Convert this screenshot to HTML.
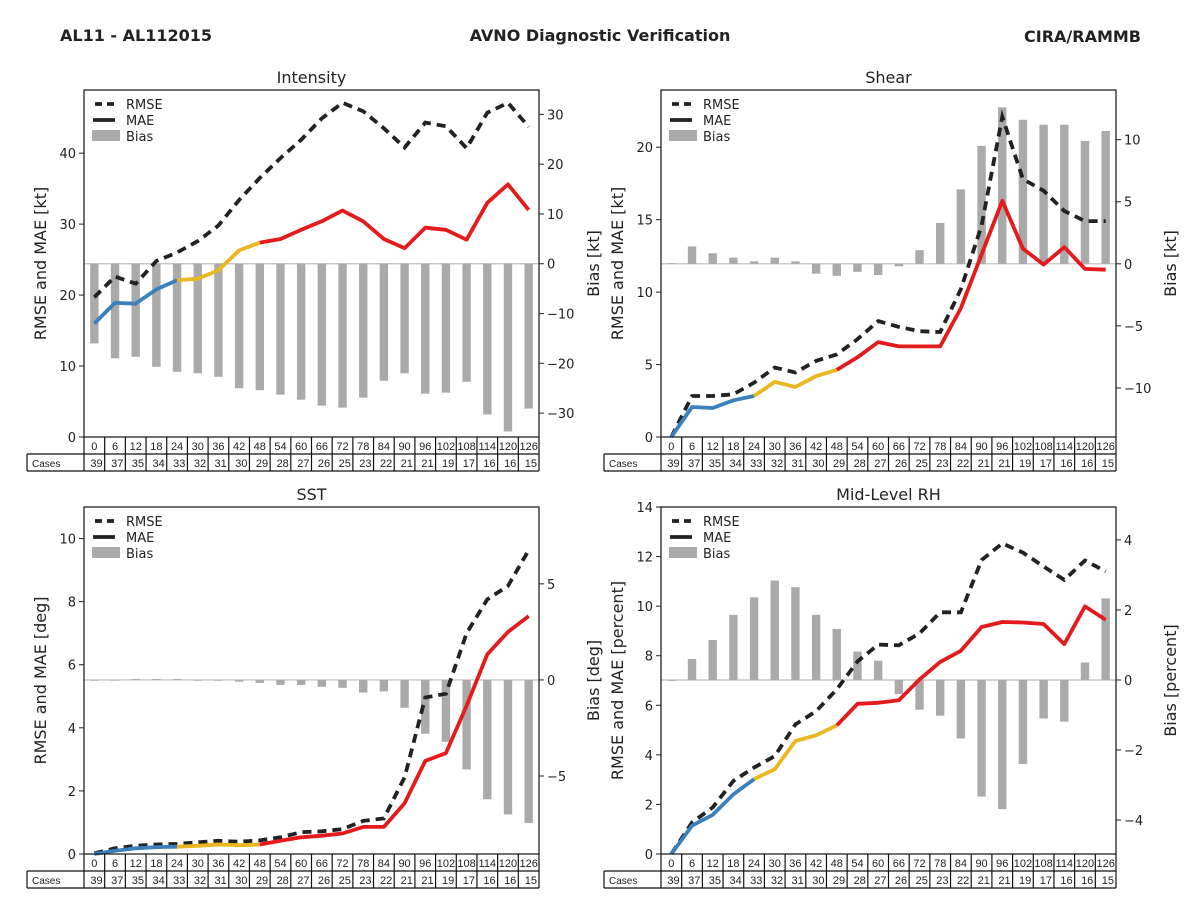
<!DOCTYPE html>
<html><head><meta charset="utf-8"><style>
html,body{margin:0;padding:0;background:#fff;}
svg{display:block;font-family:"DejaVu Sans","Liberation Sans",sans-serif;}
</style></head><body>
<svg id="fig" width="1200" height="900" viewBox="0 0 1200 900" xmlns="http://www.w3.org/2000/svg">
<text x="60" y="41" font-size="16" font-weight="bold" fill="#222">AL11 - AL112015</text>
<text x="600" y="41" font-size="16" font-weight="bold" fill="#222" text-anchor="middle">AVNO Diagnostic Verification</text>
<text x="1141" y="42" font-size="16" font-weight="bold" fill="#222" text-anchor="end">CIRA/RAMMB</text>
</svg>
<script>
const hours = [0,6,12,18,24,30,36,42,48,54,60,66,72,78,84,90,96,102,108,114,120,126];
const cases = [39,37,35,34,33,32,31,30,29,28,27,26,25,23,22,21,21,19,17,16,16,15];

const intensityRmse = [19.7,22.6,21.6,24.8,26.0,27.6,29.8,33.4,36.5,39.3,41.9,44.9,47.1,45.9,43.5,40.8,44.3,43.8,40.7,45.7,47.1,43.7];
const intensityMae = [16.0,18.9,18.8,20.8,22.1,22.3,23.5,26.3,27.4,27.9,29.2,30.4,31.9,30.4,27.9,26.6,29.5,29.2,27.8,33.0,35.6,32.0];
const intensityBias = [-16,-19,-18.7,-20.7,-21.7,-22,-22.7,-25,-25.4,-26.3,-27.3,-28.5,-28.9,-26.9,-23.5,-22,-26.1,-25.9,-23.7,-30.3,-33.7,-29.1];

const shearRmse = [0,2.83,2.83,2.95,3.75,4.8,4.45,5.25,5.7,6.75,8.0,7.6,7.3,7.25,10.2,14.6,22.1,17.8,17.0,15.6,14.9,14.9];
const shearMae = [0,2.07,2.0,2.53,2.83,3.8,3.45,4.2,4.63,5.5,6.55,6.25,6.25,6.25,8.9,12.6,16.3,13.0,11.9,13.1,11.6,11.55];
const shearBias = [0.05,1.4,0.85,0.5,0.2,0.5,0.2,-0.8,-0.97,-0.65,-0.9,-0.2,1.1,3.3,6.0,9.5,12.6,11.6,11.2,11.2,9.9,10.7];

const sstRmse = [0.02,0.18,0.26,0.3,0.32,0.37,0.42,0.39,0.43,0.53,0.69,0.72,0.79,1.05,1.13,2.43,4.96,5.08,7.0,8.07,8.5,9.63];
const sstMae = [0,0.1,0.18,0.22,0.23,0.26,0.3,0.28,0.3,0.42,0.53,0.58,0.65,0.86,0.86,1.61,2.95,3.2,4.7,6.33,7.04,7.54];
const sstBias = [-0.03,-0.03,0.05,0.05,0.05,-0.02,-0.02,-0.09,-0.16,-0.26,-0.26,-0.36,-0.41,-0.66,-0.6,-1.45,-2.8,-3.22,-4.66,-6.21,-7.0,-7.45];

const rhRmse = [0,1.27,1.88,2.95,3.49,3.95,5.23,5.76,6.64,7.77,8.45,8.42,8.9,9.75,9.75,11.86,12.53,12.16,11.6,11.06,11.84,11.4];
const rhMae = [0,1.14,1.58,2.41,3.02,3.42,4.56,4.79,5.19,6.06,6.1,6.2,7.04,7.75,8.2,9.16,9.36,9.34,9.28,8.47,9.99,9.45];
const rhBias = [0,0.6,1.14,1.86,2.36,2.84,2.65,1.86,1.46,0.81,0.55,-0.4,-0.85,-1.02,-1.67,-3.33,-3.69,-2.4,-1.1,-1.19,0.5,2.33];

const intensityLeftTicks = [0,10,20,30,40];
const intensityRightTicks = [-30,-20,-10,0,10,20,30];
const shearLeftTicks = [0,5,10,15,20];
const shearRightTicks = [-10,-5,0,5,10];
const sstLeftTicks = [0,2,4,6,8,10];
const sstRightTicks = [-5,0,5];
const rhLeftTicks = [0,2,4,6,8,10,12,14];
const rhRightTicks = [-4,-2,0,2,4];

const NS = "http://www.w3.org/2000/svg";
const svg = document.getElementById('fig');
function mk(tag, attrs, parent, txt){
  const e = document.createElementNS(NS, tag);
  for (const k in attrs) e.setAttribute(k, attrs[k]);
  if (txt !== undefined) e.textContent = txt;
  (parent||svg).appendChild(e);
  return e;
}

function panel(cfg){
  const g = mk('g', {});
  
  
  const L = cfg.x0, R = cfg.x0 + 455, T = cfg.y0, B = cfg.y0 + 347;
  const slot = (R - L) / 22;
  const xs = i => L + (i + 0.5) * slot;
  const yL = v => B - (v - cfg.lmin) / (cfg.lmax - cfg.lmin) * (B - T);
  const yR = v => B - (v - cfg.rmin) / (cfg.rmax - cfg.rmin) * (B - T);

  const title = mk('text', {x:(L+R)/2, y:T-7, 'font-size':16, 'text-anchor':'middle', fill:'#222'}, g, cfg.title);
  
  

  const zl = mk('line', {x1:L, x2:R, y1:yR(0), y2:yR(0), stroke:'#bbbbbb', 'stroke-width':1.2}, g);
  
  

  cfg.bias.forEach((v, i) => {
    const y1 = yR(Math.max(v, 0)), y2 = yR(Math.min(v, 0));
    const r = mk('rect', {x:xs(i)-4.2, y:y1, width:8.4, height:Math.max(y2-y1, 0.8), fill:'#aaaaaa'}, g);
    
    
  });

  const rp = cfg.rmse.map((v,i)=>xs(i).toFixed(1)+','+yL(v).toFixed(1)).join(' ');
  const rl = mk('polyline', {points:rp, fill:'none', stroke:'#222', 'stroke-width':3.8, 'stroke-dasharray':'9,6'}, g);
  
  

  const segs = [[0,4,'#3a80bd'],[4,8,'#eab81e'],[8,21,'#e41a1c']];
  segs.forEach(s => {
    const pts = [];
    for (let i = s[0]; i <= s[1]; i++) pts.push(xs(i).toFixed(1)+','+yL(cfg.mae[i]).toFixed(1));
    const p = mk('polyline', {points:pts.join(' '), fill:'none', stroke:s[2], 'stroke-width':3.8, 'stroke-linejoin':'round'}, g);
    
    
  });

  const fr = mk('rect', {x:L, y:T, width:R-L, height:B-T, fill:'none', stroke:'#222', 'stroke-width':1.3}, g);
  
  

  cfg.lt.forEach(v => {
    mk('line', {x1:L-5, x2:L, y1:yL(v), y2:yL(v), stroke:'#222', 'stroke-width':1}, g);
    const t = mk('text', {x:L-8, y:yL(v)+5, 'font-size':13, 'text-anchor':'end', fill:'#222'}, g, String(v));
    
    
  });
  cfg.rt.forEach(v => {
    mk('line', {x1:R, x2:R+5, y1:yR(v), y2:yR(v), stroke:'#222', 'stroke-width':1}, g);
    const t = mk('text', {x:R+8, y:yR(v)+5, 'font-size':13, fill:'#222'}, g, v < 0 ? '\u2212' + Math.abs(v) : String(v));
    
    
  });

  const ly = mk('text', {x:0, y:0, 'font-size':16, 'text-anchor':'middle', fill:'#222', transform:`translate(${L-38},${(T+B)/2}) rotate(-90)`}, g, cfg.lLabel);
  
  
  const ry = mk('text', {x:0, y:0, 'font-size':16, 'text-anchor':'middle', fill:'#222', transform:`translate(${R+60},${(T+B)/2}) rotate(-90)`}, g, cfg.rLabel);
  
  

  const lg = mk('g', {}, g);
  
  
  mk('line', {x1:L+11, x2:L+31, y1:T+14, y2:T+14, stroke:'#222', 'stroke-width':3.8, 'stroke-dasharray':'7,5'}, lg);
  mk('line', {x1:L+9, x2:L+31, y1:T+30, y2:T+30, stroke:'#222', 'stroke-width':3.8}, lg);
  mk('rect', {x:L+8, y:T+40, width:28, height:11, fill:'#aaaaaa'}, lg);
  ['RMSE','MAE','Bias'].forEach((s,k) => {
    const t = mk('text', {x:L+42, y:T+19+k*16, 'font-size':13, fill:'#222'}, lg, s);
    
    
  });

  const tb = mk('g', {'font-family':'"Liberation Sans",sans-serif'}, g);
  
  
  const r1 = B, r2 = B + 17, r3 = B + 34, CL = L - 57;
  mk('line', {x1:CL, x2:R, y1:r2, y2:r2, stroke:'#111', 'stroke-width':1.2}, tb);
  mk('line', {x1:CL, x2:R, y1:r3, y2:r3, stroke:'#111', 'stroke-width':1.2}, tb);
  mk('line', {x1:CL, x2:CL, y1:r2, y2:r3, stroke:'#111', 'stroke-width':1.2}, tb);
  mk('line', {x1:R, x2:R, y1:r1, y2:r3, stroke:'#111', 'stroke-width':1.2}, tb);
  mk('text', {x:CL+5, y:r3-4, 'font-size':10, fill:'#222'}, tb, 'Cases');
  hours.forEach((h,i) => {
    const cx = L + i*slot;
    mk('line', {x1:cx, x2:cx, y1:r1, y2:r3, stroke:'#111', 'stroke-width':1.2}, tb);
    const t = mk('text', {x:xs(i), y:r2-4, 'font-size':11, 'text-anchor':'middle', fill:'#222'}, tb, String(h));
    
    
    const c = mk('text', {x:cx+slot-2, y:r3-4, 'font-size':11, 'text-anchor':'end', fill:'#222'}, tb, String(cases[i]));
    
    
  });
}

panel({id:'intensity', title:'Intensity', x0:84, y0:90, lmin:0, lmax:48.9, rmin:-34.8, rmax:34.9,
  rmse:intensityRmse, mae:intensityMae, bias:intensityBias, lt:intensityLeftTicks, rt:intensityRightTicks,
  lLabel:'RMSE and MAE [kt]', rLabel:'Bias [kt]'});
panel({id:'shear', title:'Shear', x0:661, y0:90, lmin:0, lmax:23.95, rmin:-13.95, rmax:14.0,
  rmse:shearRmse, mae:shearMae, bias:shearBias, lt:shearLeftTicks, rt:shearRightTicks,
  lLabel:'RMSE and MAE [kt]', rLabel:'Bias [kt]'});
panel({id:'sst', title:'SST', x0:84, y0:507, lmin:0, lmax:11.0, rmin:-9.06, rmax:9.0,
  rmse:sstRmse, mae:sstMae, bias:sstBias, lt:sstLeftTicks, rt:sstRightTicks,
  lLabel:'RMSE and MAE [deg]', rLabel:'Bias [deg]'});
panel({id:'rh', title:'Mid-Level RH', x0:661, y0:507, lmin:0, lmax:14, rmin:-4.97, rmax:4.94,
  rmse:rhRmse, mae:rhMae, bias:rhBias, lt:rhLeftTicks, rt:rhRightTicks,
  lLabel:'RMSE and MAE [percent]', rLabel:'Bias [percent]'});
</script>
</body></html>
